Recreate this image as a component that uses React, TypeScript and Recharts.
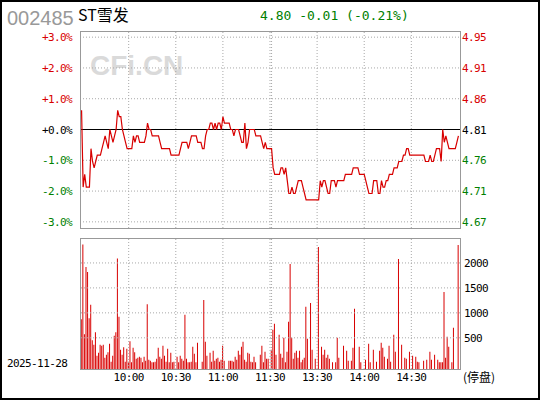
import React from 'react';
import { LineChart, Line, BarChart, Bar, XAxis, YAxis, ReferenceLine } from 'recharts';

const CODE = '002485';
const NAME = 'ST雪发';
const LAST = 4.8;
const CHANGE = -0.01;
const CHANGE_PCT = -0.21;
const PREV_CLOSE = 4.81;
const TRADE_DATE = '2025-11-28';
const HALT_NOTE = '停盘';

const PCT_TICKS = [-3, -2, -1, 0, 1, 2, 3];
const VOL_TICKS = [500, 1000, 1500, 2000];
const TIME_TICKS = [30, 60, 90, 120, 150, 180, 210];
const TIME_LABELS = ['10:00', '10:30', '11:00', '11:30', '13:30', '14:00', '14:30'];
const SESSION_BREAK = 121;

// one price per minute, 9:30 .. 11:30 then 13:01 .. 15:00
const PRICES = [
  4.84, 4.72, 4.74, 4.72, 4.72, 4.72, 4.78, 4.76, 4.75, 4.76,
  4.77, 4.77, 4.77, 4.78, 4.79, 4.80, 4.79, 4.78, 4.81, 4.80,
  4.79, 4.80, 4.81, 4.84, 4.83, 4.83, 4.81, 4.80, 4.79, 4.78,
  4.78, 4.78, 4.78, 4.80, 4.79, 4.80, 4.80, 4.79, 4.79, 4.79,
  4.79, 4.80, 4.82, 4.81, 4.81, 4.80, 4.80, 4.80, 4.80, 4.80,
  4.79, 4.78, 4.78, 4.78, 4.78, 4.78, 4.78, 4.77, 4.77, 4.77,
  4.77, 4.77, 4.77, 4.78, 4.79, 4.79, 4.79, 4.79, 4.78, 4.79,
  4.80, 4.80, 4.80, 4.80, 4.79, 4.79, 4.79, 4.78, 4.78, 4.80,
  4.81, 4.81, 4.82, 4.82, 4.81, 4.82, 4.81, 4.82, 4.82, 4.81,
  4.83, 4.82, 4.82, 4.82, 4.82, 4.81, 4.81, 4.80, 4.81, 4.81,
  4.81, 4.80, 4.79, 4.79, 4.82, 4.78, 4.79, 4.81, 4.81, 4.81,
  4.81, 4.80, 4.80, 4.80, 4.80, 4.79, 4.78, 4.79, 4.78, 4.78,
  4.78, 4.78, 4.75, 4.74, 4.74, 4.74, 4.74, 4.75, 4.75, 4.74,
  4.75, 4.73, 4.71, 4.71, 4.72, 4.71, 4.71, 4.72, 4.73, 4.73,
  4.73, 4.72, 4.71, 4.70, 4.70, 4.70, 4.70, 4.70, 4.70, 4.70,
  4.70, 4.70, 4.73, 4.72, 4.73, 4.73, 4.72, 4.71, 4.71, 4.73,
  4.73, 4.73, 4.72, 4.73, 4.73, 4.73, 4.73, 4.73, 4.74, 4.74,
  4.74, 4.74, 4.74, 4.75, 4.75, 4.75, 4.75, 4.74, 4.74, 4.74,
  4.74, 4.73, 4.72, 4.71, 4.71, 4.71, 4.73, 4.73, 4.73, 4.71,
  4.71, 4.73, 4.72, 4.72, 4.73, 4.73, 4.74, 4.74, 4.74, 4.75,
  4.75, 4.75, 4.76, 4.76, 4.76, 4.77, 4.77, 4.78, 4.78, 4.77,
  4.77, 4.77, 4.77, 4.77, 4.77, 4.77, 4.77, 4.77, 4.77, 4.76,
  4.76, 4.76, 4.77, 4.76, 4.76, 4.77, 4.78, 4.78, 4.78, 4.76,
  4.81, 4.79, 4.80, 4.79, 4.78, 4.78, 4.78, 4.78, 4.78, 4.79,
  4.80,
];

// volume per minute (lots), null = no trade
const VOLUMES = [
  870, 2370, 570, 1920, 1820, 890, 1160, 450, 360, 610,
  140, 200, 360, 340, 360, 100, 160, 210, 380, 20,
  140, 540, 610, 2090, 920, 260, 160, 310, 20, 280,
  20, 430, 10, 300, 210, 80, 100, 120, 100, 10,
  120, 40, 1170, 60, 40, 10, 10, 20, 80, 300,
  120, 80, 340, 140, 20, 280, 10, 200, 10, 20,
  null, 120, 10, 140, 80, 40, 960, 80, 10, 10,
  20, 320, 180, 10, 400, null, null, 20, 1260, 420,
  140, null, 200, 20, 240, 40, 80, 100, 20, 60,
  340, 40, null, null, 40, 40, 40, 20, 120, 60,
  240, 160, 320, 420, 60, 20, 200, 180, 20, 10,
  120, 10, null, null, 160, 340, 10, 220, 80, 80,
  null, 260, 660, 780, 160, null, 560, 180, 100, 500,
  10, 220, 820, 1980, 500, 80, 200, 240, 100, 240,
  10, 60, 100, 1120, 480, null, 1200, 260, null, 80,
  null, 2320, null, 320, 160, 260, 100, 160, 80, null,
  10, null, 10, 500, 100, null, null, 340, null, 240,
  40, null, 40, 300, 1080, null, null, 320, 10, null,
  null, 60, null, 380, 10, null, 260, null, 20, null,
  240, 400, 300, 120, null, 80, 340, 20, null, 560,
  220, null, 2080, null, 360, null, 100, 80, null, 220,
  null, 140, null, 120, 20, 10, null, null, 40, null,
  60, null, 220, 60, null, 160, null, 60, 10, 10,
  10, 1420, 100, 520, 320, null, 10, 700, null, null,
  2360,
];

const RED = '#d80000';
const GREEN = '#008000';
const GRID = '#a8a8a8';
const FRAME = '#999';
const MONO = '"DejaVu Sans Mono", monospace';
const tickStyle = { fontFamily: MONO, fontSize: 11, letterSpacing: -0.6 };

const W = 540;
const H = 400;
const PLOT_LEFT = 80;
const PLOT_RIGHT = 460;
const PRICE_TOP = 31;
const PRICE_BOTTOM = 228;
const VOL_CHART_TOP = 230;
const VOL_TOP = 238;
const VOL_BOTTOM = 369;
const AXIS_W = 40;
const AXIS_H = 20;
const PCT_SPAN = 3.2;
const VOL_FLOOR = -125;
const VOL_MAX = 2500;

const data = PRICES.map((p, i) => ({
  i,
  price: p,
  vol: VOLUMES[i] == null ? null : [VOL_FLOOR, VOLUMES[i]],
}));

const signColor = (d: number) => (d > 1e-9 ? RED : d < -1e-9 ? GREEN : '#000');

const PctTick = ({ y, payload }: any) => {
  const v = payload.value as number;
  const label = `${v < 0 ? '-' : '+'}${Math.abs(v).toFixed(1)}%`;
  return (
    <text x={PLOT_LEFT - 8} y={y + 4} textAnchor="end" fill={signColor(v)} style={tickStyle}>
      {label}
    </text>
  );
};

const PriceTick = ({ y, payload }: any) => {
  const v = payload.value as number;
  return (
    <text x={PLOT_RIGHT + 2} y={y + 4} textAnchor="start" fill={signColor(v - PREV_CLOSE)} style={tickStyle}>
      {v.toFixed(2)}
    </text>
  );
};

const VolTick = ({ y, payload }: any) => (
  <text x={PLOT_RIGHT + 4} y={y + 4} textAnchor="start" fill="#000" style={tickStyle}>
    {payload.value}
  </text>
);

const TimeTick = ({ x, payload }: any) => (
  <text x={x} y={VOL_BOTTOM - VOL_CHART_TOP + 12} textAnchor="middle" fill="#000" style={tickStyle}>
    {TIME_LABELS[TIME_TICKS.indexOf(payload.value)]}
  </text>
);

const gridProps = { stroke: GRID, strokeDasharray: '1 2', strokeWidth: 1 };

export default function App() {
  const priceTicks = PCT_TICKS.map((p) => PREV_CLOSE * (1 + p / 100));
  const priceDomain = [PREV_CLOSE * (1 - PCT_SPAN / 100), PREV_CLOSE * (1 + PCT_SPAN / 100)];
  const verticals = [...TIME_TICKS, SESSION_BREAK];

  return (
    <div style={{ position: 'absolute', left: 0, top: 0, width: W, height: H, background: '#fff' }}>
      <svg width={W} height={H} style={{ position: 'absolute', left: 0, top: 0 }}>
        <text x={7} y={25} fill="#999" style={{ fontFamily: '"Liberation Sans", Arial, sans-serif', fontSize: 20 }}>
          {CODE}
        </text>
        <text x={78} y={21} fill="#000" style={{ fontFamily: '"Noto Sans CJK SC", sans-serif', fontSize: 16 }}>
          {NAME}
        </text>
        <text x={260} y={20} fill={GREEN} style={{ fontFamily: MONO, fontSize: 13 }}>
          {`${LAST.toFixed(2)} ${CHANGE.toFixed(2)} (${CHANGE_PCT.toFixed(2)}%)`}
        </text>
        <text
          x={90}
          y={75}
          fill="#dadada"
          style={{ fontFamily: '"Liberation Sans", Arial, sans-serif', fontSize: 28, fontWeight: 700 }}
        >
          CFi.CN
        </text>
        <text x={7} y={367} fill="#000" style={tickStyle}>
          {TRADE_DATE}
        </text>
        <text x={463} y={382} fill="#000" style={{ fontFamily: '"Noto Sans CJK SC", sans-serif', fontSize: 12 }}>
          {`(${HALT_NOTE})`}
        </text>
      </svg>

      <div style={{ position: 'absolute', left: 0, top: 0 }}>
        <LineChart
          width={W}
          height={240}
          data={data}
          margin={{
            top: PRICE_TOP,
            right: W - PLOT_RIGHT - AXIS_W,
            bottom: 240 - PRICE_BOTTOM,
            left: PLOT_LEFT - AXIS_W,
          }}
        >
          <XAxis type="number" dataKey="i" domain={[-1, 241]} hide />
          <YAxis
            yAxisId="pct"
            orientation="left"
            width={AXIS_W}
            type="number"
            domain={[-PCT_SPAN, PCT_SPAN]}
            ticks={PCT_TICKS}
            interval={0}
            axisLine={false}
            tickLine={false}
            tick={PctTick}
            allowDataOverflow
          />
          <YAxis
            yAxisId="px"
            orientation="right"
            width={AXIS_W}
            type="number"
            domain={priceDomain}
            ticks={priceTicks}
            interval={0}
            axisLine={false}
            tickLine={false}
            tick={PriceTick}
            allowDataOverflow
          />
          {PCT_TICKS.filter((p) => p !== 0).map((p) => (
            <ReferenceLine key={`h${p}`} yAxisId="pct" y={p} {...gridProps} />
          ))}
          {verticals.map((t) => (
            <ReferenceLine key={`v${t}`} yAxisId="px" x={t} {...gridProps} />
          ))}
          <ReferenceLine yAxisId="pct" y={0} stroke="#000" strokeWidth={1.2} />
          <Line
            yAxisId="px"
            type="linear"
            dataKey="price"
            stroke={RED}
            strokeWidth={1.2}
            dot={false}
            isAnimationActive={false}
          />
        </LineChart>
      </div>

      <div style={{ position: 'absolute', left: 0, top: VOL_CHART_TOP }}>
        <BarChart
          width={W}
          height={H - VOL_CHART_TOP}
          data={data}
          margin={{
            top: VOL_TOP - VOL_CHART_TOP,
            right: W - PLOT_RIGHT - AXIS_W,
            bottom: H - VOL_BOTTOM - AXIS_H,
            left: PLOT_LEFT,
          }}
        >
          <XAxis
            type="number"
            dataKey="i"
            domain={[-1, 241]}
            ticks={TIME_TICKS}
            interval={0}
            height={AXIS_H}
            axisLine={false}
            tickLine={false}
            tick={TimeTick}
          />
          <YAxis
            orientation="right"
            width={AXIS_W}
            type="number"
            domain={[VOL_FLOOR, VOL_MAX]}
            ticks={VOL_TICKS}
            interval={0}
            axisLine={false}
            tickLine={false}
            tick={VolTick}
            allowDataOverflow
          />
          {VOL_TICKS.map((v) => (
            <ReferenceLine key={`hv${v}`} y={v} {...gridProps} />
          ))}
          {verticals.map((t) => (
            <ReferenceLine key={`vv${t}`} x={t} {...gridProps} />
          ))}
          <Bar dataKey="vol" fill={RED} barSize={1} isAnimationActive={false} />
        </BarChart>
      </div>

      <svg width={W} height={H} style={{ position: 'absolute', left: 0, top: 0, pointerEvents: 'none' }}>
        <rect x={1} y={1} width={W - 2} height={H - 2} fill="none" stroke="#000" strokeWidth={2} />
        <rect
          x={PLOT_LEFT + 0.5}
          y={PRICE_TOP + 0.5}
          width={PLOT_RIGHT - PLOT_LEFT}
          height={PRICE_BOTTOM - PRICE_TOP}
          fill="none"
          stroke={FRAME}
        />
        <rect
          x={PLOT_LEFT + 0.5}
          y={VOL_TOP + 0.5}
          width={PLOT_RIGHT - PLOT_LEFT}
          height={VOL_BOTTOM - VOL_TOP}
          fill="none"
          stroke={FRAME}
        />
      </svg>
    </div>
  );
}
